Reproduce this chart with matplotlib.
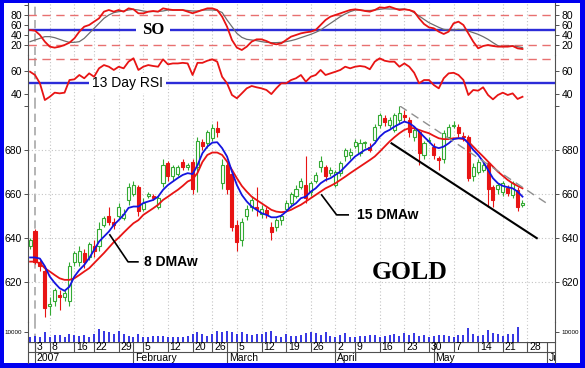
"""Gold daily chart, Dec 2006 - May 2007: SO, 13 day RSI, candles with 8/15 DMAw, volume."""
import matplotlib

matplotlib.use("Agg")
import matplotlib.pyplot as plt
from matplotlib.patches import Rectangle
import numpy as np

plt.rcParams['font.family'] = ['Liberation Sans', 'DejaVu Sans']

# ---------- data (trading-day index 0 = 29 Dec 2006) ----------
opens = [636, 643, 629, 625, 609, 611, 614, 613, 611, 629,
         629, 633, 631, 636, 636, 646, 650, 647, 650, 649,
         657, 660, 663, 653, 659, 659, 654, 665, 674, 668,
         669, 674.5, 672, 674.5, 672, 683.5, 683, 685.5, 690, 665,
         673, 669, 646, 639, 650, 654, 654, 651, 652.5, 645,
         645, 648, 653, 656, 659, 663, 664, 661, 666, 672,
         672, 669.5, 664, 669.5, 677, 677.7, 682, 678.6, 683, 681.4,
         684.5, 691.4, 694.6, 691.4, 689, 693.7, 696, 693.7, 686, 688,
         677.7, 684, 681.4, 676.4, 676, 686, 691, 690.5, 686.5, 686,
         668, 670, 671, 674, 663, 662, 661, 662.7, 659.5, 661.8,
         655]
closes = [639, 629, 627, 608, 610, 616, 613, 615, 627, 633,
          634, 629, 637, 634, 644, 649, 647, 646, 654, 651,
          663, 664, 652, 656, 660, 658, 658, 673, 668, 672,
          672, 672, 673, 662, 684, 682, 688, 690, 688, 673,
          662, 645, 638, 647, 653, 657, 653, 653, 651, 642.5,
          648, 650, 656, 660, 662, 666, 658, 665, 668.6, 675,
          668, 671, 670, 674, 680, 679, 683.6, 683, 683, 680,
          690.5, 696, 692.8, 693.7, 696, 697, 695, 688, 689, 678.6,
          683, 684.5, 677.7, 675.4, 687.7, 690.5, 691.4, 687.7, 686, 667,
          672, 674.5, 673, 662, 657, 664, 665, 660.4, 665, 654,
          656]
highs = [640, 644, 630, 626, 613, 617, 616, 616, 629, 634,
         636, 635, 638, 639, 647, 650, 654, 649, 656, 653,
         665, 666, 664, 658, 661, 660, 659, 676, 675, 673,
         673, 676, 674, 676, 686, 685, 689, 692, 693, 676,
         675, 671, 648, 649, 655, 659, 663, 655, 654, 647,
         649, 651, 657, 661, 664, 667, 677, 666, 670, 677,
         673, 672, 671, 675, 681, 681, 685, 685, 684, 683,
         692, 697, 696, 695, 697, 700, 698, 695, 690, 689,
         684, 686, 683, 677, 689, 692, 693, 692, 688, 687,
         674, 676, 675, 675, 664, 665, 666, 664, 666, 663,
         657]
lows = [635, 628, 625, 604, 605, 609, 607, 611, 609, 627,
        627, 626, 630, 631, 634, 645, 646, 644, 649, 648,
        655, 659, 650, 652, 658, 657, 653, 663, 666, 666,
        668, 671, 671, 660, 661, 680, 681, 684, 686, 662,
        660, 643, 634, 636, 648, 652, 650, 649, 649, 639,
        643, 646, 652, 654, 658, 662, 656, 659, 665, 670,
        666, 668, 663, 668, 675, 676, 681, 677, 681, 679,
        683, 690, 691, 690, 688, 692, 693, 686, 684, 673,
        676, 683, 676, 671, 674, 685, 690, 686, 684, 666,
        666, 669, 670, 654, 654, 660, 659, 659, 658, 652,
        654]

dma8 = [631, 631, 630.5, 627, 622.3, 619.4, 617, 615.8, 617.7, 622.3,
        625.3, 627.6, 630.7, 634.4, 638.2, 640.5, 642.8, 645.8, 648, 650.4,
        653.6, 654.2, 654.2, 655.8, 656.5, 657.2, 658.7, 661.8, 664, 665.6,
        667.2, 668.6, 669.4, 669, 673, 678.5, 681.5, 683.3, 683.5, 680.8,
        677, 670.1, 664, 659.5, 656.5, 654.2, 652.7, 651.2, 650.4, 649.3,
        649.3, 650, 651.9, 654.2, 655.7, 658, 658.7, 661, 662.5, 664.8,
        666.3, 667.1, 668.6, 670.1, 672.4, 674.7, 677, 678.5, 680, 680.8,
        683, 686, 688, 689.1, 690.6, 691.8, 692.9, 692.2, 690.6, 688.3,
        686, 683.8, 681.5, 680.8, 681.5, 683, 684.9, 685.3, 685.3, 683,
        680, 677.7, 674.7, 670.9, 667.1, 664.8, 663.6, 663, 662.5, 661,
        658.7]
dma15 = [629.1, 629.1, 628.4, 626.1, 624.6, 623, 621.5, 620.8, 620.8, 621.5,
         623, 624.6, 626.1, 628.4, 630.7, 633, 635.5, 638, 640, 642.3,
         644.5, 646.6, 648, 650.4, 651.9, 653.4, 655, 657.2, 658.7, 660.3,
         661.8, 663.6, 665.6, 666.6, 669.5, 674.5, 677.7, 678.8, 678.8, 677.7,
         674.7, 670.9, 667.1, 663.6, 661, 658.7, 657.2, 655.7, 654.2, 652.7,
         651.9, 651.6, 651.9, 652.7, 653.9, 655, 656.5, 658, 659.5, 661,
         662.5, 663.6, 664.8, 666.3, 667.8, 669.4, 670.9, 672.4, 673.9, 675.4,
         677, 679.2, 681.5, 683.8, 685.8, 687.6, 689.1, 689.9, 689.9, 689.1,
         688.3, 687.6, 686.4, 685.3, 684.9, 684.9, 685.3, 685.3, 684.9, 683.8,
         681.5, 679.2, 677, 674.7, 672.4, 670.1, 668.2, 666.3, 664.8, 663.6,
         662.5]

so_k = [50, 48.7, 40, 26.7, 16.7, 14.7, 16.7, 20, 24.7, 33.3,
        46.7, 56.7, 60, 66.7, 73.3, 86.7, 90, 86.7, 90, 86.7,
        93.3, 91.3, 83.3, 83.3, 86.7, 88, 86.7, 93.3, 91.3, 90,
        90, 90, 86.7, 83.5, 86.7, 90, 93.3, 93.3, 90, 76.7,
        56.7, 30, 14.7, 10, 16.7, 26.7, 31.3, 31.3, 28, 23.3,
        21.3, 23.3, 30, 36.7, 40, 43.3, 45.3, 46.7, 50, 60,
        70, 76.7, 80, 83.3, 86.7, 90, 91.3, 90, 88, 86.7,
        90, 95.3, 94.3, 96.7, 93.3, 90, 91.3, 90, 86.7, 73.3,
        62, 55.3, 53.3, 46.7, 42, 46.7, 63.3, 66.7, 60, 43.3,
        26.7, 13.3, 18, 20, 18, 16.7, 16.7, 16.7, 18, 13.3,
        12]
so_d = [26.7, 30, 33.3, 36.7, 36.7, 34.7, 31.3, 28, 25.3, 25.3,
        26.7, 33.3, 43.3, 53.3, 63.3, 73.3, 80, 84.7, 86.7, 88,
        90, 91.3, 90, 88, 86.7, 87, 87, 88, 90, 90,
        90, 90, 89, 88, 88, 90, 90, 90, 89, 85,
        70, 56.7, 43.3, 35.3, 31.3, 30, 28.7, 26.7, 25.3, 24.7,
        24.7, 25.3, 26.7, 28.7, 31.3, 34.7, 38, 41.3, 45.3, 50,
        56.7, 63.3, 70, 76.7, 82, 86.7, 90, 90, 89, 89,
        90, 91.3, 92.5, 92, 92, 92, 92, 90, 84.7, 78,
        71.3, 64.7, 60, 55.3, 51.3, 50, 50, 51.3, 50, 48,
        44.7, 41.3, 36.7, 31.3, 24.7, 18.7, 16.7, 18, 18, 16.7,
        14.7]
rsi13 = [59.4, 56.6, 49.5, 35.2, 38, 41.5, 40.9, 41.5, 52.3, 52.9,
         56.6, 53.8, 58, 55.1, 62.3, 65.1, 63.7, 60.9, 63.7, 62.3,
         68, 70.9, 60.9, 63.7, 65.1, 64.3, 63.7, 70, 65.7, 66.5,
         66.5, 67, 66.5, 56.6, 67, 67, 68.8, 70, 68, 55.1,
         49.5, 39.5, 36.7, 40.9, 45.2, 47.2, 46.1, 45.2, 43.8, 40.3,
         45.2, 49.5, 49.5, 52.3, 53.8, 56.6, 50.9, 55.1, 56.6, 60.9,
         56.6, 58, 59.4, 60.9, 63.7, 62.3, 63.7, 64.3, 63.7, 61.5,
         68, 70.9, 68.8, 68, 68, 63.7, 66.5, 63.7, 58.5, 49.5,
         52.3, 52.3, 48, 45.2, 53.8, 58, 58.5, 56.6, 52.3, 39.5,
         43.8, 43.2, 46.1, 39.5, 35.8, 39.5, 41.5, 39.5, 40.9, 36.1,
         38]
volume_k = [5, 6, 4.5, 10, 5, 6.5, 6.5, 5, 8, 6.5,
            6, 6.5, 5, 8, 12.5, 11, 9.5, 8, 11, 8,
            6, 5, 8, 4.5, 4.5, 6, 6, 6, 5, 5,
            5, 5, 6, 7.7, 9.3, 7.7, 6, 7.7, 11, 9.3,
            11, 9.3, 7.7, 10, 7.7, 7, 7.7, 7.7, 9.3, 10.3,
            6, 5, 7.7, 6, 6, 7, 8.3, 9.3, 8.3, 7,
            9.3, 6, 5, 7, 8.3, 4.3, 5, 6, 6, 7,
            7, 5, 6, 7, 7.7, 6, 8.3, 7, 8.3, 6,
            7, 4.3, 6, 7, 7, 6, 5, 7, 7, 13.7,
            7.7, 6, 7, 11.7, 8.3, 7.7, 6, 7.7, 7.7, 14.3,
            0]

# axis labelling: weekly ticks and month starts (trading-day index)
week_pos = [1, 4, 9, 13, 18, 23, 28, 33, 37, 42, 47, 52, 57, 62, 66, 71, 76, 81, 86, 91, 96, 101]
week_lab = ['3', '8', '16', '22', '29', '5', '12', '20', '26', '5', '12', '19', '26',
            '2', '9', '16', '23', '30', '7', '14', '21', '28']
month_pos = [1, 21, 40, 62, 82, 105]
month_lab = ['2007', 'February', 'March', 'April', 'May', 'June']

# hand-drawn channel lines on the price panel (index, price)
support_x, support_y = [73.4, 102.9], [683.0, 639.8]
resist_x, resist_y = [75.1, 104.9], [700.0, 655.7]

# ---------- figure ----------
W, H = 585, 368
fig = plt.figure(figsize=(W / 100, H / 100), dpi=100, facecolor='#0000F0')
fig.patches.append(Rectangle((4 / W, 5 / H), 576 / W, 360 / H, transform=fig.transFigure,
                             facecolor='white', edgecolor='none', zorder=-10))


def px_axes(x0, y0, x1, y1):
    return fig.add_axes([x0 / W, 1 - y1 / H, (x1 - x0) / W, (y1 - y0) / H])


XLIM = (-0.42, 106.6)
RED = '#E81414'
GREEN = '#34AA34'
BLUE = '#2C2CD8'
GRID = dict(color='#C4C4C4', lw=0.8, linestyle=(0, (1, 2)))

ax_so = px_axes(28, 3, 555, 55)
ax_rsi = px_axes(28, 55, 555, 106)
ax_main = px_axes(28, 106, 555, 322)
ax_vol = px_axes(28, 322, 555, 341.7)
ax_date = px_axes(28, 341.7, 555, 363)

for ax in (ax_so, ax_rsi, ax_main, ax_vol, ax_date):
    ax.set_xlim(*XLIM)
    ax.set_facecolor('none')
    for s in ('top', 'bottom'):
        ax.spines[s].set_visible(False)
    for s in ('left', 'right'):
        ax.spines[s].set_color('#505050')
        ax.spines[s].set_linewidth(0.8)
    ax.tick_params(axis='x', bottom=False, labelbottom=False)
    ax.tick_params(axis='y', direction='out', length=3, width=0.7, color='#505050',
                   left=True, right=True, labelleft=True, labelright=True,
                   labelsize=7.5, pad=1.5)

for ax in (ax_so, ax_rsi, ax_main, ax_vol):
    for p in week_pos[1:]:
        ax.axvline(p, zorder=1, **GRID)
    ax.axvline(1, color='#A8A8A8', lw=1.2, linestyle=(0, (5, 3)), zorder=1)

x = np.arange(len(closes))

# ---------- SO panel ----------
ax_so.set_ylim(0, 104)
ax_so.set_yticks([20, 40, 60, 80, 100])
ax_so.set_yticklabels(['20', '40', '60', '80', ''])
for lvl in (20, 80):
    ax_so.axhline(lvl, color='#E87070', lw=1, linestyle=(0, (6, 4)), zorder=2)
ax_so.axhline(50, color=BLUE, lw=1.7, zorder=2)
ax_so.text(25, 49, 'SO', fontsize=12, fontweight='bold', family='Liberation Serif',
           ha='center', va='center', zorder=3,
           bbox=dict(facecolor='white', edgecolor='none', pad=4))
ax_so.plot(x, so_d, color='#6E6E6E', lw=0.9, zorder=4)
ax_so.plot(x, so_k, color=RED, lw=1.3, zorder=5)

# ---------- RSI panel ----------
ax_rsi.set_ylim(30.1, 73.7)
ax_rsi.set_yticks([40, 60])
ax_rsi.axhline(70, color='#E87070', lw=1, linestyle=(0, (6, 4)), zorder=2)
ax_rsi.axhline(50, color=BLUE, lw=1.7, zorder=2)
ax_rsi.text(19.8, 50, '13 Day RSI', fontsize=10, ha='center', va='center', zorder=3,
            bbox=dict(facecolor='white', edgecolor='none', pad=2))
ax_rsi.plot(x, rsi13, color=RED, lw=1.3, zorder=5)

# ---------- price panel ----------
ax_main.set_ylim(601.6, 700)
ax_main.set_yticks([620, 640, 660, 680, 700])
ax_main.set_yticklabels(['620', '640', '660', '680', ''])
for lvl in (620, 640, 660, 680):
    ax_main.axhline(lvl, zorder=1, **GRID)

o = np.array(opens)
c = np.array(closes)
up = c >= o
cols = np.where(up, GREEN, RED)
ax_main.vlines(x, lows, highs, colors=cols, lw=0.8, zorder=3)
body_lo = np.minimum(o, c)
body_h = np.maximum(np.abs(c - o), 0.5)
ax_main.bar(x[up], body_h[up], bottom=body_lo[up], width=0.62, facecolor='white',
            edgecolor=GREEN, lw=0.8, zorder=4)
ax_main.bar(x[~up], body_h[~up], bottom=body_lo[~up], width=0.62, facecolor=RED,
            edgecolor=RED, lw=0.8, zorder=4)

ax_main.plot(x, dma15, color=RED, lw=1.3, zorder=5)
ax_main.plot(x, dma8, color='#1414E0', lw=1.3, zorder=6)

ax_main.plot(support_x, support_y, color='black', lw=1.5, zorder=6)
ax_main.plot(resist_x, resist_y, color='#909090', lw=1, linestyle=(0, (6, 4)), zorder=6)

ax_main.plot([16.2, 19.9, 21.9], [641.3, 629.0, 629.0], color='black', lw=1.2, zorder=6)
ax_main.text(23.2, 629.0, '8 DMAw', fontsize=10, fontweight='bold', va='center', zorder=7)
ax_main.plot([59.2, 62.25, 64.6], [659.5, 650.4, 650.4], color='black', lw=1.2, zorder=6)
ax_main.text(66.3, 650.4, '15 DMAw', fontsize=10, fontweight='bold', va='center', zorder=7)
ax_main.text(77.1, 624, 'GOLD', fontsize=18.5, fontweight='bold', family='Liberation Serif',
             ha='center', va='center', zorder=7)

# ---------- volume ----------
ax_vol.set_ylim(0, 19.7)
ax_vol.set_yticks([10])
ax_vol.set_yticklabels(['10000'])
ax_vol.tick_params(axis='y', labelsize=4.5)
ax_vol.vlines(x, 0, volume_k, colors='#2424E0', lw=1.3, zorder=3)

# ---------- date axis ----------
ax_date.set_ylim(0, 1)
ax_date.set_yticks([])
ax_date.axhline(1, color='#505050', lw=0.9)
ax_date.axhline(0.53, color='#505050', lw=0.8)
ax_date.vlines(week_pos, 0.53, 1, color='#505050', lw=0.8)
ax_date.vlines(month_pos, 0, 1, color='#505050', lw=0.8)
for p, lab in zip(week_pos, week_lab):
    ax_date.text(p + 0.35, 0.77, lab, fontsize=7.5, ha='left', va='center', clip_on=True)
for p, lab in zip(month_pos, month_lab):
    ax_date.text(p + 0.35, 0.25, lab, fontsize=7.5, ha='left', va='center', clip_on=True)

fig.savefig('out.png', dpi=100, facecolor=fig.get_facecolor())
